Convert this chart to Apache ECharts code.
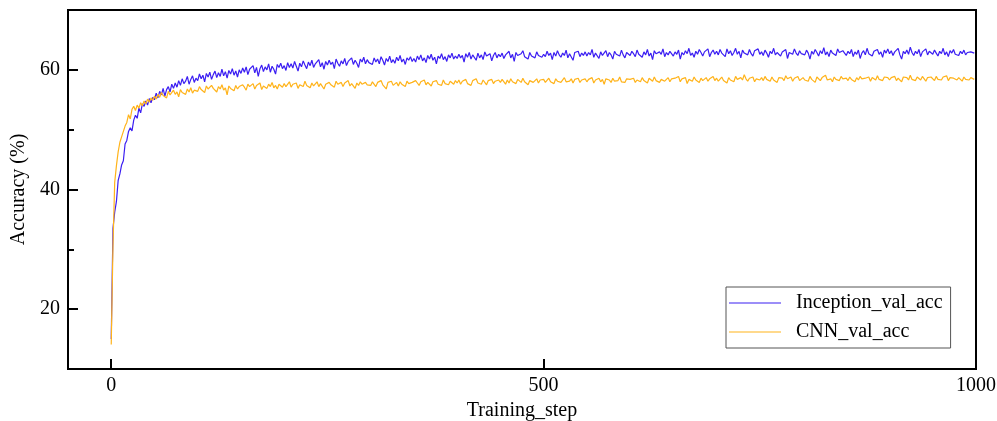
<!DOCTYPE html>
<html>
<head>
<meta charset="utf-8">
<script src="https://cdn.jsdelivr.net/npm/echarts@6/dist/echarts.min.js"></script>
<style>
  html, body { margin: 0; padding: 0; background: #fff; }
  #chart { width: 997px; height: 421px; }
</style>
</head>
<body>
<div id="chart"></div>
<script>
// one value every 2 training steps (0, 2, 4 ... 998)
const stepSize = 2

const inceptionAcc = [
  15.0, 33.5, 36.2, 38.0, 41.5, 42.6, 44.1, 44.8, 47.6, 48.2, 49.7, 50.3, 49.8, 51.6, 52.4, 51.9, 53.6, 52.8, 54.3, 53.9, 54.8, 54.1, 55.2, 54.5, 55.4,
  55.0, 56.1, 55.3, 56.4, 55.8, 56.9, 55.6, 56.7, 57.2, 56.3, 57.6, 56.9, 57.8, 57.1, 58.2, 57.4, 58.5, 57.7, 58.1, 58.9, 57.6, 58.4, 59.0, 57.9, 58.6,
  58.2, 59.3, 58.5, 59.1, 58.0, 59.4, 58.8, 59.6, 58.4, 59.2, 59.8, 58.7, 59.5, 58.9, 60.1, 59.0, 59.7, 58.6, 59.9, 59.3, 60.2, 59.1, 59.8, 58.8, 60.0,
  59.4, 60.3, 59.6, 60.5, 59.2, 60.1, 59.8, 60.7, 59.5, 60.4, 58.9, 60.2, 60.8, 59.7, 60.5, 60.0, 61.0, 59.6, 60.6, 60.1, 59.3, 60.9, 60.4, 61.1, 60.2,
  60.7, 59.9, 61.2, 60.4, 61.0, 60.3, 61.4, 60.6, 59.8, 61.1, 60.5, 61.5, 60.8, 60.2, 61.3, 60.7, 61.6, 60.4, 61.0, 60.9, 61.7, 60.5, 61.2, 60.1, 61.4,
  60.8, 61.6, 60.9, 61.3, 60.2, 61.8, 61.1, 60.6, 61.5, 61.0, 61.9, 60.7, 61.4, 61.2, 62.0, 60.9, 61.6, 61.1, 60.4, 61.8, 61.3, 62.1, 61.0, 61.7, 61.2,
  61.5, 60.9, 62.0, 61.3, 61.8, 61.0, 62.2, 61.6, 60.8, 61.9, 61.4, 62.3, 61.2, 61.7, 61.1, 62.1, 61.5, 62.4, 61.3, 61.8, 60.9, 62.0, 61.6, 62.2, 61.4,
  61.9, 61.3, 62.3, 61.7, 62.5, 61.5, 62.0, 61.2, 62.4, 61.8, 62.6, 61.6, 62.1, 61.0, 62.3, 61.9, 62.7, 61.7, 62.2, 61.4, 62.5, 62.0, 62.8, 61.8, 62.3,
  61.9, 62.6, 62.0, 62.4, 61.3, 62.7, 62.1, 62.9, 61.8, 62.5, 62.2, 61.6, 62.8, 62.0, 62.5, 61.7, 63.0, 62.3, 62.1, 62.7, 61.5, 62.4, 62.9, 62.0, 62.6,
  62.2, 62.8, 61.9, 62.5, 62.3, 63.1, 62.0, 62.6, 61.4, 62.9, 62.4, 62.1, 62.7, 63.2, 62.2, 62.5, 61.8, 62.9, 62.3, 62.6, 62.0, 63.0, 62.4, 62.7, 62.1,
  62.6, 62.2, 63.1, 62.4, 62.8, 61.7, 62.9, 62.3, 63.2, 62.5, 62.1, 62.8, 62.4, 63.3, 62.0, 62.7, 62.5, 61.6, 62.9, 62.6, 63.1, 62.2, 62.8, 62.4, 63.0,
  62.3, 62.9, 62.5, 63.4, 62.1, 62.8, 62.6, 61.9, 63.0, 62.4, 62.7, 63.2, 62.2, 62.9, 62.5, 61.8, 63.1, 62.6, 62.8, 62.3, 63.3, 62.5, 62.0, 62.9, 62.7,
  62.4, 63.1, 62.7, 62.2, 63.3, 62.6, 62.9, 62.1, 63.0, 62.5, 63.4, 62.3, 62.8, 61.7, 63.2, 62.7, 62.4, 63.0, 62.6, 63.5, 62.2, 62.9, 62.5, 63.1, 62.8,
  62.3, 63.0, 62.6, 63.3, 61.8, 62.9, 62.5, 63.2, 62.7, 63.6, 62.4, 62.8, 62.1, 63.1, 62.6, 63.4, 62.9, 62.3, 63.0, 62.7, 63.5, 62.2, 62.9, 63.3, 62.6,
  63.1, 62.5, 63.4, 62.8, 63.0, 62.2, 63.5, 62.7, 63.2, 62.4, 62.9, 63.6, 62.6, 63.1, 62.0, 63.3, 62.8, 63.0, 62.5, 63.4, 62.7, 62.3, 63.2, 62.9, 63.5,
  62.6, 63.0, 62.4, 63.3, 62.8, 62.1, 63.1, 62.7, 63.6, 62.5, 62.9, 63.2, 62.3, 63.0, 62.7, 63.4, 61.9, 62.9, 63.1, 62.6, 63.5, 62.8, 62.4, 63.2, 62.7,
  63.0, 62.5, 63.3, 62.8, 61.8, 63.1, 62.6, 63.4, 62.9, 62.3, 63.2, 62.7, 63.7, 62.5, 63.0, 62.2, 63.3, 62.8, 63.1, 62.4, 63.5, 62.9, 62.6, 63.2, 62.8,
  62.4, 63.1, 62.7, 63.4, 62.2, 63.0, 62.6, 63.3, 61.9, 62.8, 63.2, 62.5, 63.6, 62.7, 63.0, 62.3, 63.1, 62.9, 63.4, 62.6, 63.0, 62.1, 63.3, 62.8, 63.5,
  62.7, 63.2, 62.4, 63.0, 62.8, 63.6, 62.5, 61.8, 63.1, 62.7, 63.3, 62.6, 63.8, 62.9, 62.4, 63.1, 62.7, 63.4, 62.2, 63.0, 62.8, 63.5, 62.5, 63.1, 62.9,
  62.6, 63.3, 62.8, 62.3, 63.1, 62.7, 63.6, 62.5, 63.0, 62.2, 63.2, 62.8, 63.4, 62.6, 62.9, 62.4, 63.1, 62.7, 63.3, 62.5, 62.9, 62.6, 63.0, 62.7, 62.8
]

const cnnAcc = [
  14.1, 30.5, 41.2, 44.0, 46.3, 47.9, 48.8, 48.5, 50.6, 51.2, 52.5, 51.8, 53.4, 53.9, 53.2, 54.1, 53.6, 54.5, 54.0, 54.8, 54.3, 55.1, 54.6, 55.3, 54.9,
  55.6, 55.1, 55.9, 55.4, 56.2, 55.7, 56.0, 55.3, 56.4, 55.8, 56.1, 56.6, 55.9, 56.3, 55.5, 56.7, 56.2, 56.5, 55.9, 56.8, 56.3, 57.0, 56.1, 56.6, 56.9,
  56.4, 57.2, 56.7, 57.0, 56.2, 57.3, 56.8, 56.5, 57.4, 56.9, 57.1, 56.3, 57.2, 56.8, 57.5, 56.6, 57.0, 55.8, 57.3, 56.9, 57.1, 56.5, 57.4, 56.8, 57.2,
  56.9, 57.5, 57.1, 56.6, 57.6, 57.2, 57.0, 57.7, 56.8, 57.4, 57.1, 57.8, 56.7, 57.3, 57.5, 56.9, 57.6, 57.2, 57.9, 57.0, 57.4, 56.8, 57.6, 57.3, 57.1,
  57.7, 57.2, 57.5, 58.0, 57.1, 57.6, 57.3, 57.8, 56.9, 57.5, 57.7, 57.2, 58.1, 57.4, 57.6, 57.0, 57.8, 57.3, 57.5, 58.0, 57.2, 57.7, 57.4, 56.8, 57.6,
  57.3, 57.9, 57.5, 57.7, 57.1, 58.1, 57.6, 57.4, 57.9, 57.2, 57.8, 57.5, 58.2, 57.3, 57.7, 57.6, 56.9, 57.8, 57.4, 58.0, 57.6, 57.3, 57.9, 57.5, 57.7,
  57.4, 58.0, 57.7, 57.2, 57.9, 57.6, 58.2, 57.5, 57.8, 56.8, 57.9, 57.6, 58.1, 57.4, 57.7, 57.9, 57.3, 58.0, 57.6, 57.8, 57.2, 58.1, 57.7, 57.5, 57.9,
  57.6, 58.2, 57.8, 57.4, 58.0, 57.7, 58.3, 57.5, 57.9, 58.1, 57.3, 58.0, 57.8, 58.2, 57.6, 57.9, 57.4, 58.3, 57.7, 58.0, 57.5, 58.1, 57.9, 57.6, 58.2,
  57.8, 58.3, 57.6, 58.1, 57.9, 58.4, 57.7, 58.0, 57.4, 58.2, 57.9, 58.5, 57.8, 58.1, 57.6, 58.3, 58.0, 57.5, 58.2, 57.9, 58.4, 57.7, 58.1, 57.8, 58.3,
  57.9, 58.4, 58.1, 57.6, 58.3, 57.8, 58.5, 58.0, 58.2, 57.7, 58.4, 58.1, 57.9, 58.6, 58.0, 58.3, 57.5, 58.2, 58.4, 57.9, 58.1, 58.5, 57.8, 58.3, 58.0,
  58.4, 57.9, 58.2, 58.6, 58.0, 58.3, 57.7, 58.5, 58.1, 58.4, 57.9, 58.2, 58.7, 58.0, 58.3, 58.1, 58.5, 57.8, 58.4, 58.2, 58.6, 57.9, 58.3, 58.1, 58.5,
  58.0, 58.4, 58.2, 58.7, 57.8, 58.3, 58.1, 58.6, 58.0, 58.4, 57.6, 58.5, 58.2, 58.3, 57.9, 58.6, 58.1, 58.4, 58.2, 58.8, 58.0, 58.3, 57.9, 58.5, 58.2,
  58.4, 58.1, 58.6, 57.9, 58.3, 58.5, 58.0, 58.7, 58.2, 58.4, 57.8, 58.6, 58.3, 58.1, 58.8, 58.2, 58.5, 57.9, 58.4, 58.6, 58.1, 58.3, 58.7, 58.0, 58.5,
  58.2, 58.6, 58.3, 58.9, 58.0, 58.5, 58.2, 58.7, 57.7, 58.4, 58.6, 58.1, 58.8, 58.3, 58.5, 57.9, 58.6, 58.2, 58.4, 58.7, 58.1, 58.5, 58.3, 58.9, 58.2,
  58.6, 58.1, 58.4, 58.8, 58.2, 58.5, 57.8, 58.7, 58.3, 58.6, 58.0, 58.9, 58.4, 58.2, 58.7, 58.3, 59.2, 58.5, 58.1, 58.6, 58.4, 58.8, 58.0, 58.5, 58.7,
  58.3, 58.7, 58.2, 58.9, 58.4, 58.6, 58.1, 58.8, 58.3, 58.5, 57.9, 58.7, 58.4, 58.6, 58.2, 59.0, 58.5, 58.3, 58.8, 58.1, 58.6, 58.4, 58.9, 58.2, 58.5,
  58.7, 58.3, 58.6, 58.1, 58.9, 58.4, 58.6, 57.9, 58.8, 58.5, 58.2, 58.7, 58.4, 59.1, 58.3, 58.6, 58.5, 58.0, 58.8, 58.4, 58.6, 58.2, 58.9, 58.5, 58.3,
  58.6, 58.2, 58.8, 58.4, 58.5, 58.0, 58.7, 58.3, 58.9, 58.5, 58.2, 58.6, 58.4, 58.8, 58.1, 58.7, 58.5, 58.3, 59.0, 58.4, 58.6, 58.2, 58.8, 58.5, 58.7,
  58.3, 58.7, 58.5, 58.9, 58.2, 58.6, 58.4, 58.0, 58.8, 58.5, 58.7, 58.3, 59.1, 58.4, 58.6, 58.2, 58.8, 58.5, 58.3, 58.9, 58.6, 58.1, 58.7, 58.4, 58.8,
  58.5, 58.2, 58.9, 58.4, 58.6, 58.3, 58.8, 58.5, 59.0, 58.2, 58.7, 58.4, 58.6, 58.9, 58.3, 58.7, 58.5, 58.1, 58.8, 58.4, 58.6, 58.3, 58.7, 58.5, 58.4
]

const xTicks = [0, 500, 1000]
const yTicks = [20, 40, 60]
const yMinorTicks = [30, 50]

const font = '"Liberation Serif", "Times New Roman", serif'

const toPoints = arr => arr.map((v, i) => [i * stepSize, v])

const chart = echarts.init(document.getElementById('chart'), null, { renderer: 'canvas' })

chart.setOption({
  animation: false,
  textStyle: { fontFamily: font, color: '#000' },
  grid: {
    left: 68, right: 21, top: 10, bottom: 52,
    outerBoundsMode: 'none',
    containLabel: false,
    show: true, borderColor: '#000', borderWidth: 2
  },
  legend: {
    orient: 'vertical',
    left: 726, top: 287,
    icon: 'rect',
    itemWidth: 52, itemHeight: 1, itemGap: 9,
    padding: [6, 8, 6, 3],
    borderColor: '#555', borderWidth: 1,
    textStyle: { fontFamily: font, fontSize: 20, color: '#000', padding: [0, 0, 0, 10] },
    data: ['Inception_val_acc', 'CNN_val_acc']
  },
  xAxis: {
    type: 'value',
    min: -50, max: 1000,
    name: 'Training_step',
    nameLocation: 'middle',
    nameGap: 30,
    nameTextStyle: { fontFamily: font, fontSize: 20, color: '#000' },
    axisLine: { onZero: false, lineStyle: { color: '#000', width: 2 } },
    axisTick: { inside: true, length: 10, customValues: xTicks, lineStyle: { color: '#000', width: 2 } },
    axisLabel: {
      customValues: xTicks, margin: 7, fontFamily: font, fontSize: 20, color: '#000',
      formatter: v => String(v)
    },
    splitLine: { show: false }
  },
  yAxis: [
    {
      type: 'value',
      min: 10, max: 70,
      name: 'Accuracy (%)',
      nameLocation: 'middle',
      nameGap: 34,
      nameTextStyle: { fontFamily: font, fontSize: 20, color: '#000' },
      axisLine: { show: true, onZero: false, lineStyle: { color: '#000', width: 2 } },
      axisTick: { inside: true, length: 10, customValues: yTicks, lineStyle: { color: '#000', width: 2 } },
      axisLabel: { customValues: yTicks, margin: 8, fontFamily: font, fontSize: 20, color: '#000' },
      splitLine: { show: false }
    },
    {
      // minor ticks only
      type: 'value',
      position: 'left',
      min: 10, max: 70,
      axisLine: { show: false, onZero: false },
      axisTick: { inside: true, length: 6, customValues: yMinorTicks, lineStyle: { color: '#000', width: 2 } },
      axisLabel: { show: false },
      splitLine: { show: false }
    }
  ],
  series: [
    {
      name: 'Inception_val_acc',
      type: 'line',
      symbol: 'none',
      color: '#3b1ef2',
      lineStyle: { width: 1.2 },
      data: toPoints(inceptionAcc)
    },
    {
      name: 'CNN_val_acc',
      type: 'line',
      symbol: 'none',
      color: '#ffb31a',
      lineStyle: { width: 1.2 },
      data: toPoints(cnnAcc)
    }
  ]
})
</script>
</body>
</html>
